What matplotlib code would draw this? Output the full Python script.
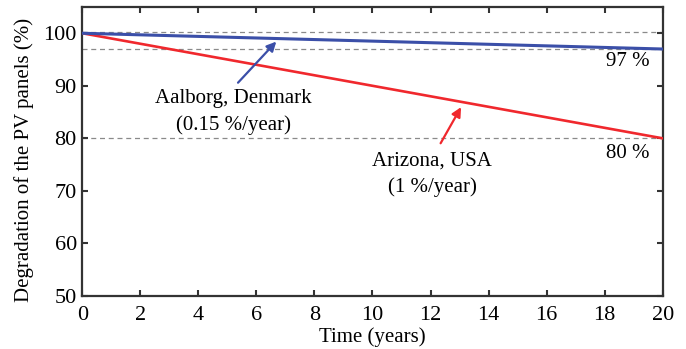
import matplotlib
matplotlib.use("Agg")
import matplotlib.pyplot as plt

plt.rcParams['font.family'] = ['Liberation Serif', 'DejaVu Serif']

years = [0, 20]
aalborg = [100, 97]
arizona = [100, 80]
ref_levels = [100.2, 97, 80]

fig, ax = plt.subplots(figsize=(6.86, 3.49), dpi=100)
fig.subplots_adjust(left=0.12, right=0.966, top=0.98, bottom=0.152)

for lv in ref_levels:
    ax.axhline(lv, color='#8a8a8a', lw=0.9, ls=(0, (4, 3)), zorder=1)

ax.plot(years, arizona, color='#f0282d', lw=1.9, zorder=3)
ax.plot(years, aalborg, color='#3b4fa8', lw=2.2, zorder=3)

fs = 15
ax.annotate('', xy=(6.75, 98.8), xytext=(5.3, 90.2),
            arrowprops=dict(arrowstyle='-|>', color='#3b4fa8', lw=1.6,
                            mutation_scale=14))
ax.text(5.2, 87.6, 'Aalborg, Denmark', ha='center', va='center', fontsize=fs)
ax.text(5.2, 82.5, '(0.15 %/year)', ha='center', va='center', fontsize=fs)

ax.annotate('', xy=(13.1, 86.4), xytext=(12.3, 78.6),
            arrowprops=dict(arrowstyle='-|>', color='#f0282d', lw=1.6,
                            mutation_scale=14))
ax.text(12.05, 75.6, 'Arizona, USA', ha='center', va='center', fontsize=fs)
ax.text(12.05, 70.8, '(1 %/year)', ha='center', va='center', fontsize=fs)

ax.text(18.8, 94.6, '97 %', ha='center', va='center', fontsize=fs)
ax.text(18.8, 77.2, '80 %', ha='center', va='center', fontsize=fs)

ax.set_xlim(0, 20)
ax.set_ylim(50, 105)
ax.set_xticks(range(0, 21, 2))
ax.set_yticks(range(50, 101, 10))
ax.tick_params(direction='in', top=True, right=True, length=4, width=1.5,
               labelsize=16, color='#333333', pad=4)
ax.tick_params(axis='x', pad=7)
for s in ax.spines.values():
    s.set_linewidth(1.6)
    s.set_color('#333333')

ax.set_xlabel('Time (years)', fontsize=fs, labelpad=2)
ax.set_ylabel('Degradation of the PV panels (%)', fontsize=fs)
ax.yaxis.set_label_coords(-0.084, 0.47)

fig.savefig('out.png', dpi=100)
